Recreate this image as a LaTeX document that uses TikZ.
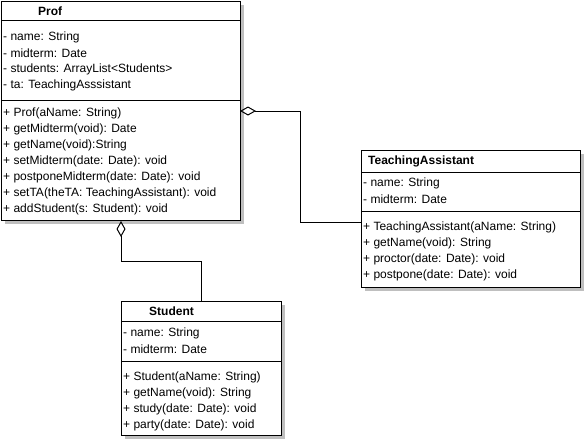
\documentclass[tikz,border=0pt]{standalone}
\usepackage{fontspec}
\setmainfont{Liberation Sans}
\usetikzlibrary{arrows.meta,shadows}

\begin{document}
\begin{tikzpicture}[x=1pt,y=1pt,yscale=-1,xscale=1,
    classbox/.style={draw,line width=1pt,fill=white,anchor=north west,inner sep=0pt,
      drop shadow={shadow xshift=3pt,shadow yshift=-3pt,fill=black!25,opacity=1}},
    member/.style={anchor=west,inner sep=0pt,font=\fontsize{12}{14}\selectfont},
    classname/.style={member,font=\fontsize{12}{14}\selectfont\bfseries},
    aggr/.style={line width=1pt,-{Diamond[open,length=16pt,width=9pt,line width=1pt]}}]
    \useasboundingbox (0,0) rectangle (585,445);
    % classes
    \node[classbox,minimum width=239pt,minimum height=219pt] (prof) at (1,1) {};
    \node[classbox,minimum width=219pt,minimum height=137pt] (ta) at (361,150) {};
    \node[classbox,minimum width=160pt,minimum height=134pt] (student) at (121,301) {};
    % compartments
    \draw[line width=1pt] (1,20) -- (240,20) (1,100) -- (240,100);
    \draw[line width=1pt] (361,172) -- (580,172) (361,211) -- (580,211);
    \draw[line width=1pt] (121,321) -- (281,321) (121,361) -- (281,361);
    % Prof
    \node[classname] (profname) at (38,11) {Prof};
    \node[member] (pa1) at (3,37) {- name: String};
    \node[member] (pa2) at (3,53) {- midterm: Date};
    \node[member] (pa3) at (3,69) {- students: ArrayList<Students>};
    \node[member] (pa4) at (3,85) {- ta: TeachingAsssistant};
    \node[member] (pm1) at (3,113) {+ Prof(aName: String)};
    \node[member] (pm2) at (3,129) {+ getMidterm(void): Date};
    \node[member] (pm3) at (3,145) {+ getName(void):String};
    \node[member] (pm4) at (3,161) {+ setMidterm(date: Date): void};
    \node[member] (pm5) at (3,177) {+ postponeMidterm(date: Date): void};
    \node[member] (pm6) at (3,193) {+ setTA(theTA: TeachingAssistant): void};
    \node[member] (pm7) at (3,209) {+ addStudent(s: Student): void};
    % TeachingAssistant
    \node[classname] (taname) at (368,161) {TeachingAssistant};
    \node[member] (ta1) at (363,183) {- name: String};
    \node[member] (ta2) at (363,199) {- midterm: Date};
    \node[member] (tm1) at (363,227) {+ TeachingAssistant(aName: String)};
    \node[member] (tm2) at (363,243) {+ getName(void): String};
    \node[member] (tm3) at (363,259) {+ proctor(date: Date): void};
    \node[member] (tm4) at (363,275) {+ postpone(date: Date): void};
    % Student
    \node[classname] (stname) at (149,311) {Student};
    \node[member] (sa1) at (123,333) {- name: String};
    \node[member] (sa2) at (123,349) {- midterm: Date};
    \node[member] (sm1) at (123,377) {+ Student(aName: String)};
    \node[member] (sm2) at (123,393) {+ getName(void): String};
    \node[member] (sm3) at (123,409) {+ study(date: Date): void};
    \node[member] (sm4) at (123,425) {+ party(date: Date): void};
    % aggregations
    \coordinate (profR) at (240,111);
    \coordinate (taL) at (361,222);
    \coordinate (bendS) at (121,261);
    \draw[aggr] (taL) -- (300,222) |- (profR);
    \draw[aggr] (student.north) |- (bendS) -- (prof.south);
  \end{tikzpicture}
\end{document}
